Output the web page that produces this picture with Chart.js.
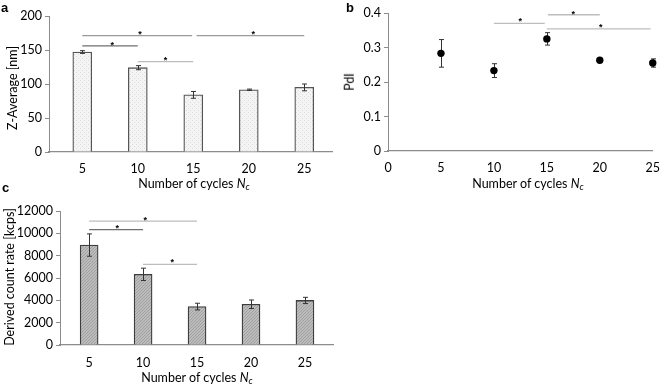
<!DOCTYPE html>
<html><head><meta charset="utf-8">
<script src="https://cdn.jsdelivr.net/npm/chart.js@4/dist/chart.umd.min.js"></script>
<style>
html,body{margin:0;padding:0;background:#fff;}
#wrap{position:relative;width:669px;height:386px;background:#fff;overflow:hidden;font-family:Lato,sans-serif;color:#000;}
canvas{position:absolute;}
.t{position:absolute;font-size:12.5px;white-space:nowrap;line-height:1;}
.yt{transform:translate(-50%,-50%) rotate(-90deg);}
.xt{transform:translate(-50%,-50%);}
.pl{position:absolute;font:bold 13px "Liberation Sans",Arial,sans-serif;color:#000;line-height:1;}
sub{font-size:0.75em;vertical-align:-0.25em;}
</style></head>
<body>
<div id="wrap">
<canvas id="ca" style="left:0;top:0" width="340" height="186"></canvas>
<canvas id="cb" style="left:340px;top:0" width="329" height="186"></canvas>
<canvas id="cc" style="left:0;top:186px" width="340" height="200"></canvas>
<div class="pl" style="left:1px;top:1px">a</div>
<div class="pl" style="left:346px;top:1px">b</div>
<div class="pl" style="left:2px;top:181px">c</div>
<div class="t yt" style="left:13px;top:88px">Z-Average [nm]</div>
<div class="t xt" style="left:194px;top:185px">Number of cycles <i>N<sub>c</sub></i></div>
<div class="t yt" style="left:350px;top:82px">PdI</div>
<div class="t xt" style="left:528px;top:185px">Number of cycles <i>N<sub>c</sub></i></div>
<div class="t yt" style="left:10px;top:277px">Derived count rate [kcps]</div>
<div class="t xt" style="left:197px;top:379px">Number of cycles <i>N<sub>c</sub></i></div>
</div>
<script>
// ---- data ----
const cycles = [5, 10, 15, 20, 25];
const zAverage = [147, 124, 84, 91.5, 95];
const zAverageErr = [2, 3, 5, 1, 5];
const pdi = [0.283, 0.233, 0.325, 0.263, 0.255];
const pdiErr = [0.04, 0.02, 0.018, 0.004, 0.012];
const countRate = [8950, 6330, 3440, 3650, 3990];
const countRateErr = [1000, 550, 300, 380, 280];
const zTicks = [0, 50, 100, 150, 200];
const pdiTicks = [0, 0.1, 0.2, 0.3, 0.4];
const rateTicks = [0, 2000, 4000, 6000, 8000, 10000, 12000];
const pdiXTicks = [0, 5, 10, 15, 20, 25];
// significance brackets: [from, to, level]
const sigA = [[5, 14.9, 171], [15.3, 25, 171], [5, 10, 156], [10, 15, 133]];
const sigAColor = ['#9a9a9a', '#9a9a9a', '#6f6f6f', '#bdbdbd'];
const starsA = [[10.2, 176], [20.4, 176], [7.7, 160], [12.5, 138]];
const sigB = [[10, 14.8, 0.37], [15.1, 20, 0.395], [15, 24.8, 0.354]];
const sigBColor = ['#bdbdbd', '#bdbdbd', '#bdbdbd'];
const starsB = [[12.5, 0.38], [17.5, 0.40], [20.1, 0.364]];
const sigC = [[5, 15, 11100], [5, 10, 10330], [10, 15, 7215]];
const sigCColor = ['#bdbdbd', '#6f6f6f', '#bdbdbd'];
const starsC = [[10.2, 11370], [7.6, 10570], [12.7, 7540]];

Chart.defaults.font.family = 'Lato, sans-serif';
Chart.defaults.font.size = 12.5;
Chart.defaults.color = '#000';
Chart.defaults.animation = false;

function dotPattern() {
  const c = document.createElement('canvas'); c.width = 4; c.height = 4;
  const g = c.getContext('2d');
  g.fillStyle = '#f4f4f4'; g.fillRect(0, 0, 4, 4);
  g.fillStyle = '#dcdcdc'; g.fillRect(0, 0, 1, 1); g.fillRect(2, 2, 1, 1);
  return g.createPattern(c, 'repeat');
}
function hatchPattern() {
  const c = document.createElement('canvas'); c.width = 3; c.height = 3;
  const g = c.getContext('2d');
  g.fillStyle = '#bcbcbc'; g.fillRect(0, 0, 3, 3);
  g.fillStyle = '#a0a0a0';
  for (let i = 0; i < 3; i++) g.fillRect(i, 2 - i, 1, 1);
  return g.createPattern(c, 'repeat');
}

function pts(xs, ys) { return xs.map((x, i) => ({ x: x, y: ys[i] })); }
function sigDatasets(sig, colors) {
  return sig.map((s, i) => ({
    type: 'line', data: [{ x: s[0], y: s[2] }, { x: s[1], y: s[2] }],
    borderColor: colors[i], borderWidth: 1.3, pointRadius: 0, fill: false, order: 5
  }));
}

const extras = {
  id: 'extras',
  afterDatasetsDraw(chart, args, o) {
    const ctx = chart.ctx, xs = chart.scales.x, ys = chart.scales.y;
    ctx.save();
    ctx.strokeStyle = '#333'; ctx.lineWidth = 1;
    o.xs.forEach((x, i) => {
      const px = Math.round(xs.getPixelForValue(x)) + 0.5;
      const y1 = ys.getPixelForValue(o.ys[i] - o.err[i]);
      const y2 = ys.getPixelForValue(o.ys[i] + o.err[i]);
      ctx.beginPath();
      ctx.moveTo(px, y1); ctx.lineTo(px, y2);
      ctx.moveTo(px - 2.5, y1); ctx.lineTo(px + 2.5, y1);
      ctx.moveTo(px - 2.5, y2); ctx.lineTo(px + 2.5, y2);
      ctx.stroke();
    });
    if (o.points) {
      ctx.fillStyle = '#000';
      o.xs.forEach((x, i) => {
        ctx.beginPath();
        ctx.arc(xs.getPixelForValue(x), ys.getPixelForValue(o.ys[i]), 3.7, 0, Math.PI * 2);
        ctx.fill();
      });
    }
    ctx.fillStyle = '#000';
    ctx.font = 'bold 9px "Liberation Sans", Arial, sans-serif';
    ctx.textAlign = 'center'; ctx.textBaseline = 'middle';
    o.stars.forEach(s => {
      ctx.fillText('*', xs.getPixelForValue(s[0]), ys.getPixelForValue(s[1]) + 2);
    });
    ctx.restore();
  }
};

function yScale(min, max, ticks, width) {
  return {
    min: min, max: max,
    afterBuildTicks: s => { s.ticks = ticks.map(v => ({ value: v })); },
    afterFit: s => { s.width = width; },
    grid: { display: true, drawOnChartArea: false, drawTicks: true, tickLength: 4, color: '#8c8c8c' },
    border: { display: true, color: '#8c8c8c', width: 1 },
    ticks: { padding: 3, color: '#000', callback: v => String(v) }
  };
}
function xScale(min, max, ticks, height, pad) {
  return {
    type: 'linear', min: min, max: max, offset: false,
    afterBuildTicks: s => { s.ticks = ticks.map(v => ({ value: v })); },
    afterFit: s => { s.height = height; },
    grid: { display: false, drawTicks: false },
    border: { display: true, color: '#8c8c8c', width: 1.2 },
    ticks: { padding: pad, color: '#000', maxRotation: 0, callback: v => String(v) }
  };
}

// ---- chart a ----
new Chart(document.getElementById('ca'), {
  type: 'bar',
  data: {
    datasets: [{
      type: 'bar', data: pts(cycles, zAverage), backgroundColor: dotPattern(),
      borderColor: '#555', borderWidth: 1.3, barThickness: 19, order: 1
    }].concat(sigDatasets(sigA, sigAColor))
  },
  options: {
    responsive: false, animation: false,
    layout: { padding: { top: 16, right: 8, bottom: 0, left: 0 } },
    plugins: { legend: { display: false }, tooltip: { enabled: false },
      extras: { xs: cycles, ys: zAverage, err: zAverageErr, stars: starsA } },
    scales: { x: xScale(2, 27.5, cycles, 34, 9), y: yScale(0, 200, zTicks, 49) }
  },
  plugins: [extras]
});

// ---- chart b ----
new Chart(document.getElementById('cb'), {
  type: 'scatter',
  data: {
    datasets: [{ type: 'scatter', data: pts(cycles, pdi), pointRadius: 0, order: 1 }]
      .concat(sigDatasets(sigB, sigBColor))
  },
  options: {
    responsive: false, animation: false,
    layout: { padding: { top: 13, right: 10, bottom: 0, left: 0 } },
    plugins: { legend: { display: false }, tooltip: { enabled: false },
      extras: { xs: cycles, ys: pdi, err: pdiErr, stars: starsB, points: true } },
    scales: { x: xScale(0, 25, pdiXTicks, 35, 9), y: yScale(0, 0.4, pdiTicks, 48) }
  },
  plugins: [extras]
});

// ---- chart c ----
new Chart(document.getElementById('cc'), {
  type: 'bar',
  data: {
    datasets: [{
      type: 'bar', data: pts(cycles, countRate), backgroundColor: hatchPattern(),
      borderColor: '#3d3d3d', borderWidth: 1.3, barThickness: 18, order: 1
    }].concat(sigDatasets(sigC, sigCColor))
  },
  options: {
    responsive: false, animation: false,
    layout: { padding: { top: 25, right: 7, bottom: 0, left: 0 } },
    plugins: { legend: { display: false }, tooltip: { enabled: false },
      extras: { xs: cycles, ys: countRate, err: countRateErr, stars: starsC } },
    scales: { x: xScale(2.3, 27.6, cycles, 41, 10), y: yScale(0, 12000, rateTicks, 60) }
  },
  plugins: [extras]
});
</script>
</body></html>
